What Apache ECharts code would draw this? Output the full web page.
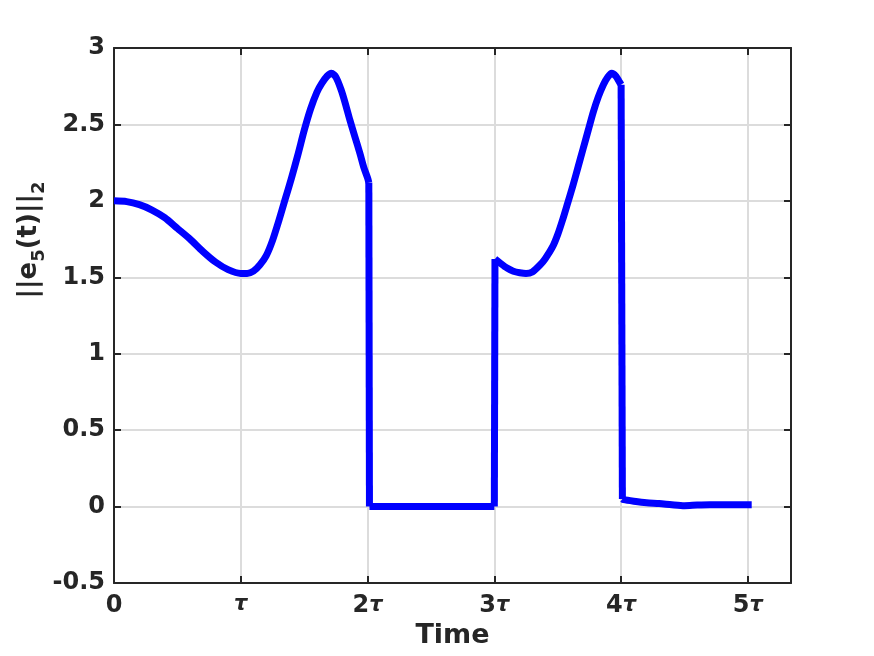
<!DOCTYPE html>
<html>
<head>
<meta charset="utf-8">
<script src="https://cdn.jsdelivr.net/npm/echarts@6/dist/echarts.min.js"></script>
<style>
  html, body { margin: 0; padding: 0; background: #fff; }
  #chart { width: 874px; height: 656px; }
</style>
</head>
<body>
<div id="chart"></div>
<script>
// time in units of tau, value = ||e5(t)||_2
var timeA = [0, 0.1, 0.2, 0.3, 0.4, 0.5, 0.6, 0.7, 0.8, 0.9, 1.0, 1.05, 1.1, 1.15, 1.2, 1.25, 1.3, 1.35, 1.4, 1.45, 1.5, 1.55, 1.6, 1.64, 1.68, 1.715, 1.75, 1.79, 1.82, 1.86, 1.9, 1.94, 1.97, 2.0, 2.01];
var errA  = [2.0, 1.995, 1.975, 1.94, 1.89, 1.82, 1.75, 1.67, 1.6, 1.55, 1.525, 1.525, 1.54, 1.58, 1.64, 1.74, 1.87, 2.01, 2.15, 2.3, 2.46, 2.6, 2.71, 2.77, 2.815, 2.835, 2.81, 2.73, 2.65, 2.53, 2.42, 2.31, 2.22, 2.15, 2.12];
var timeB = [2.015, 2.5, 3.0];
var errB  = [0, 0, 0];
var timeC = [3.005, 3.05, 3.1, 3.15, 3.2, 3.25, 3.3, 3.36, 3.4, 3.46, 3.5, 3.54, 3.58, 3.62, 3.66, 3.7, 3.74, 3.78, 3.82, 3.86, 3.895, 3.925, 3.96, 3.985, 4.0];
var errC  = [1.62, 1.59, 1.56, 1.54, 1.53, 1.525, 1.535, 1.58, 1.62, 1.7, 1.78, 1.88, 1.99, 2.1, 2.22, 2.34, 2.46, 2.58, 2.68, 2.76, 2.81, 2.835, 2.815, 2.78, 2.76];
var timeD = [4.01, 4.02, 4.1, 4.2, 4.3, 4.4, 4.5, 4.6, 4.7, 4.8, 4.9, 5.0, 5.03];
var errD  = [0.05, 0.045, 0.035, 0.025, 0.02, 0.012, 0.006, 0.01, 0.012, 0.012, 0.012, 0.012, 0.012];
var xTickLabels = ['0', '{t|τ}', '2{t|τ}', '3{t|τ}', '4{t|τ}', '5{t|τ}'];

function pairs(ts, vs) {
  return ts.map(function (t, i) { return [t, vs[i]]; });
}
var segA = pairs(timeA, errA);
var segB = pairs(timeB, errB);
var segC = pairs(timeC, errC);
var segD = pairs(timeD, errD);
// the switching jumps join the end of one piece to the start of the next
var jumps = [
  [segA[segA.length - 1], segB[0]],
  [segB[segB.length - 1], segC[0]],
  [segC[segC.length - 1], segD[0]]
];

var ink = '#262626';
var font = 'DejaVu Sans';
var blue = '#0000ff';
var chart = echarts.init(document.getElementById('chart'));

var boxAxis = {
  axisLine: { show: true, onZero: false, lineStyle: { color: ink, width: 2 } },
  axisTick: { show: true, inside: true, length: 7, lineStyle: { color: ink, width: 2 } },
  axisLabel: { show: false },
  splitLine: { show: false }
};

function piece(data, smooth) {
  return {
    type: 'line', data: data, xAxisIndex: 0, yAxisIndex: 0,
    smooth: smooth ? 0.25 : false,
    showSymbol: false, silent: true,
    lineStyle: { color: blue, width: 7, cap: 'butt', join: 'miter' },
    itemStyle: { color: blue }
  };
}

var series = [piece(segA, true), piece(segB, false), piece(segC, true), piece(segD, true)];
jumps.forEach(function (j) { series.push(piece(j, false)); });

var option = {
  animation: false,
  backgroundColor: '#fff',
  grid: { left: 114, right: 83, top: 48, bottom: 73 },
  xAxis: [
    {
      type: 'value', min: 0, max: 5.34, interval: 1,
      name: 'Time', nameLocation: 'middle', nameGap: 36,
      nameTextStyle: { fontFamily: font, fontWeight: 'bold', fontSize: 27, color: ink },
      axisLine: { onZero: false, lineStyle: { color: ink, width: 2 } },
      axisTick: { inside: true, length: 7, lineStyle: { color: ink, width: 2 } },
      axisLabel: {
        showMaxLabel: false, margin: 11,
        fontFamily: font, fontWeight: 'bold', fontSize: 24, color: ink,
        formatter: function (v) { return xTickLabels[Math.round(v)] || ''; },
        rich: { t: { fontFamily: font, fontStyle: 'italic', fontWeight: 'bold', fontSize: 21, color: ink } }
      },
      splitLine: { show: true, lineStyle: { color: '#dcdcdc', width: 2 } }
    },
    Object.assign({ type: 'value', position: 'top', min: 0, max: 5.34, interval: 1 }, boxAxis)
  ],
  yAxis: [
    {
      type: 'value', min: -0.5, max: 3, interval: 0.5,
      axisLine: { show: true, onZero: false, lineStyle: { color: ink, width: 2 } },
      axisTick: { show: true, inside: true, length: 7, lineStyle: { color: ink, width: 2 } },
      axisLabel: { margin: 9, fontFamily: font, fontWeight: 'bold', fontSize: 24, color: ink },
      splitLine: { show: true, lineStyle: { color: '#dcdcdc', width: 2 } }
    },
    Object.assign({ type: 'value', position: 'right', min: -0.5, max: 3, interval: 0.5 }, boxAxis)
  ],
  graphic: [{
    type: 'text', x: 29, y: 240, rotation: Math.PI / 2,
    style: {
      text: '{b|||e}{s|5}{b|(t)||}{s|2}',
      align: 'center', verticalAlign: 'middle',
      rich: {
        b: { fontFamily: font, fontWeight: 'bold', fontSize: 26, fill: ink, lineHeight: 38, verticalAlign: 'middle' },
        s: { fontFamily: font, fontWeight: 'bold', fontSize: 18, fill: ink, lineHeight: 16, verticalAlign: 'bottom' }
      }
    }
  }],
  series: series
};
chart.setOption(option);
</script>
</body>
</html>
